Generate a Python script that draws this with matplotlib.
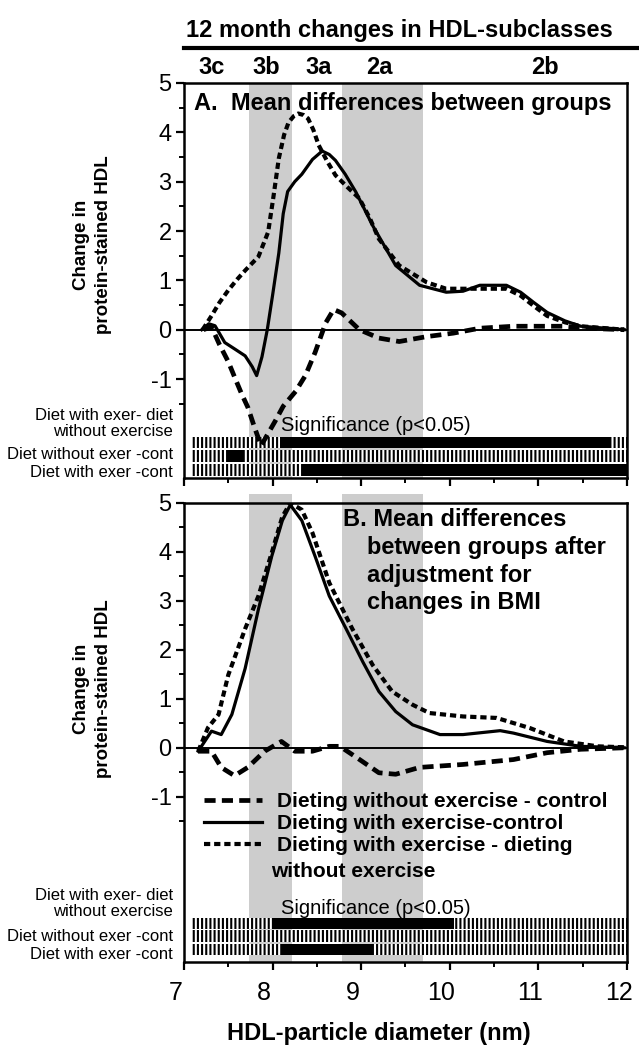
import matplotlib.pyplot as plt
import matplotlib.transforms as mtransforms
import numpy as np
from matplotlib.lines import Line2D

plt.rcParams['font.family'] = ['Liberation Sans', 'DejaVu Sans']
plt.rcParams['hatch.linewidth'] = 1.5
plt.rcParams['hatch.color'] = 'black'
plt.rcParams['lines.scale_dashes'] = False
plt.rcParams['axes.unicode_minus'] = False

# ---------------- data ----------------
subclasses = ['3c', '3b', '3a', '2a', '2b']
subclass_x = [7.31, 7.93, 8.52, 9.20, 11.08]
bands = [(7.73, 8.22), (8.78, 9.70)]

# panel A: mean differences between groups
a_noex_x = [7.22, 7.31, 7.40, 7.50, 7.58, 7.65, 7.72, 7.80, 7.87, 7.95, 8.03, 8.12,
            8.26, 8.37, 8.48, 8.60, 8.69, 8.78, 8.98, 9.20, 9.43, 9.74, 10.04, 10.34,
            10.72, 11.29, 11.67, 11.97]
a_noex_y = [0.0, 0.06, -0.30, -0.65, -1.0, -1.30, -1.57, -2.0, -2.35, -2.10, -1.85, -1.55,
            -1.25, -0.93, -0.46, 0.14, 0.41, 0.34, 0.0, -0.17, -0.24, -0.14, -0.07, 0.03,
            0.07, 0.07, 0.02, 0.0]

a_ex_x = [7.20, 7.28, 7.35, 7.46, 7.58, 7.69, 7.77, 7.82, 7.88, 7.94, 8.00, 8.07, 8.12,
          8.17, 8.25, 8.33, 8.45, 8.56, 8.64, 8.71, 8.82, 8.94, 9.13, 9.39, 9.66, 9.96,
          10.15, 10.34, 10.64, 10.80, 10.95, 11.10, 11.30, 11.48, 11.97]
a_ex_y = [0.0, 0.12, 0.08, -0.26, -0.40, -0.53, -0.75, -0.93, -0.55, 0.0, 0.70, 1.55, 2.35,
          2.80, 3.00, 3.15, 3.45, 3.62, 3.55, 3.43, 3.15, 2.79, 2.11, 1.30, 0.90, 0.76,
          0.78, 0.90, 0.90, 0.76, 0.55, 0.35, 0.18, 0.07, 0.0]

a_exnoex_x = [7.21, 7.31, 7.40, 7.50, 7.60, 7.69, 7.84, 7.95, 8.01, 8.07, 8.13, 8.18, 8.24,
              8.29, 8.35, 8.40, 8.46, 8.52, 8.62, 8.71, 8.85, 8.98, 9.10, 9.20, 9.43, 9.74,
              9.96, 10.34, 10.64, 10.80, 10.95, 11.10, 11.30, 11.48, 11.97]
a_exnoex_y = [0.0, 0.28, 0.55, 0.80, 1.02, 1.20, 1.48, 1.98, 2.70, 3.47, 3.95, 4.20, 4.33,
              4.38, 4.35, 4.28, 4.05, 3.74, 3.40, 3.13, 2.88, 2.66, 2.25, 1.84, 1.30, 0.96,
              0.83, 0.83, 0.83, 0.69, 0.48, 0.28, 0.15, 0.07, 0.0]

# panel B: after adjustment for changes in BMI
b_noex_x = [7.16, 7.31, 7.42, 7.57, 7.72, 7.91, 8.10, 8.25, 8.45, 8.64, 8.76, 8.95, 9.20,
            9.39, 9.66, 10.15, 10.72, 11.10, 11.48, 11.97]
b_noex_y = [-0.07, -0.07, -0.40, -0.57, -0.40, -0.07, 0.13, -0.07, -0.07, 0.03, 0.03, -0.20,
            -0.51, -0.54, -0.40, -0.34, -0.24, -0.10, -0.03, 0.0]

b_ex_x = [7.16, 7.31, 7.42, 7.54, 7.69, 7.84, 7.99, 8.11, 8.20, 8.33, 8.48, 8.64, 8.83,
          9.02, 9.20, 9.39, 9.58, 9.89, 10.15, 10.57, 10.72, 11.10, 11.48, 11.97]
b_ex_y = [-0.07, 0.34, 0.27, 0.68, 1.62, 2.83, 3.91, 4.64, 4.96, 4.64, 3.91, 3.10, 2.43,
          1.75, 1.15, 0.74, 0.47, 0.27, 0.27, 0.35, 0.30, 0.13, 0.03, 0.0]

b_exnoex_x = [7.16, 7.27, 7.39, 7.50, 7.69, 7.84, 7.99, 8.11, 8.20, 8.33, 8.45, 8.64, 8.90,
              9.13, 9.35, 9.58, 9.77, 10.15, 10.53, 10.91, 11.29, 11.67, 11.97]
b_exnoex_y = [-0.07, 0.41, 0.68, 1.49, 2.43, 3.10, 3.98, 4.72, 5.0, 4.86, 4.39, 3.37, 2.43,
              1.69, 1.15, 0.88, 0.71, 0.64, 0.61, 0.40, 0.13, 0.03, 0.01]

legend_labels = ['Dieting without exercise - control',
                 'Dieting with exercise-control',
                 'Dieting with exercise - dieting']

sig_labels = ['Diet with exer- diet\nwithout exercise',
              'Diet without exer -cont',
              'Diet with exer -cont']
# significant (p<0.05) ranges per row, nm
sig_a = [[(8.08, 11.82)], [(7.50, 7.68)], [(8.34, 12.0)]]
sig_b = [[(8.00, 10.05)], [], [(8.10, 9.12)]]

# ---------------- figure ----------------
fig = plt.figure(figsize=(6.39, 10.5), dpi=100)
axA = fig.add_axes([0.288, 0.545, 0.693, 0.376])
axB = fig.add_axes([0.288, 0.084, 0.693, 0.437])

styles = [dict(color='black', lw=3.4, dashes=(8, 4.5)),
          dict(color='black', lw=2.3, ls='-'),
          dict(color='black', lw=3.0, dashes=(4.5, 2.8))]

panels = [
    (axA, (-3.0, 5.0), [(a_noex_x, a_noex_y), (a_ex_x, a_ex_y), (a_exnoex_x, a_exnoex_y)],
     sig_a, [(-2.39, 0.22), (-2.69, 0.25), (-2.96, 0.23)], [-1.90, -2.53, -2.89], -1.95),
    (axB, (-4.37, 5.0), [(b_noex_x, b_noex_y), (b_ex_x, b_ex_y), (b_exnoex_x, b_exnoex_y)],
     sig_b, [(-3.69, 0.22), (-3.96, 0.23), (-4.24, 0.24)], [-3.18, -3.86, -4.22], -3.29),
]

for ax, ylim, curves, sig, rows, lab_y, sig_txt_y in panels:
    ax.set_xlim(7, 12)
    ax.set_ylim(*ylim)
    for x0, x1 in bands:
        ax.axvspan(x0, x1, ymin=0, ymax=1.0 if ax is axA else 1.02, color='#cdcdcd',
                   lw=0, zorder=0, clip_on=False)
    ax.axhline(0, color='black', lw=1.4, zorder=1)
    lines = []
    for (cx, cy), st in zip(curves, styles):
        ln, = ax.plot(cx, cy, zorder=3, **st)
        lines.append(ln)
    # significance rows
    for (y0, h), segs in zip(rows, sig):
        ax.broken_barh([(7.08, 4.92)], (y0, h), facecolors='white', edgecolor='black',
                       hatch='||||', linewidth=0, zorder=2)
        if segs:
            ax.broken_barh([(s0, s1 - s0) for s0, s1 in segs], (y0, h),
                           facecolors='black', linewidth=0, zorder=2.5)
    tr = ax.get_yaxis_transform()
    for lab, y in zip(sig_labels, lab_y):
        ax.text(-0.025, y, lab, transform=tr, ha='right', va='center', fontsize=12,
                linespacing=1.05, multialignment='right')
    ax.text(8.1, sig_txt_y, 'Significance (p<0.05)', fontsize=14.5, ha='left',
            va='center', zorder=4)

    ax.set_xticks(range(7, 13))
    ax.set_xticks(np.arange(7.5, 12, 1.0), minor=True)
    ax.set_yticks(range(-1, 6))
    ax.set_yticks(np.arange(-1.5, 5, 1.0), minor=True)
    ax.tick_params(which='major', direction='out', length=6, width=1.6, labelsize=17, pad=3)
    ax.tick_params(which='minor', direction='out', length=3.5, width=1.4)
    for sp in ax.spines.values():
        sp.set_linewidth(1.8)
    ax.patch.set_alpha(0)
    if ax is axA:
        ax.tick_params(axis='x', labelbottom=False)
        handles = lines

axB.tick_params(axis='x', labelsize=18, pad=8)
shift = mtransforms.ScaledTranslation(-6 / 72, 0, fig.dpi_scale_trans)
for lab in axB.get_xticklabels():
    lab.set_transform(lab.get_transform() + shift)
axB.set_xlabel('HDL-particle diameter (nm)', fontsize=17, fontweight='bold')
axB.xaxis.set_label_coords(0.44, -0.132)

# headings
fig.text(0.625, 0.971, '12 month changes in HDL-subclasses', fontsize=17,
         fontweight='bold', ha='center', va='center')
fig.add_artist(Line2D([0.288, 1.0], [0.954, 0.954], color='black', lw=3))
trA = axA.get_xaxis_transform()
for lab, x in zip(subclasses, subclass_x):
    axA.text(x, 1.038, lab, transform=trA, fontsize=17, fontweight='bold',
             ha='center', va='center')

axA.text(0.023, 0.949, 'A.  Mean differences between groups', transform=axA.transAxes,
         fontsize=17, fontweight='bold', ha='left', va='center', zorder=5)

b_title = [('B. Mean differences', 0.358, 0.963),
           ('between groups after', 0.413, 0.902),
           ('adjustment for', 0.413, 0.841),
           ('changes in BMI', 0.413, 0.782)]
for t, x, y in b_title:
    axB.text(x, y, t, transform=axB.transAxes, fontsize=17, fontweight='bold',
             ha='left', va='center', zorder=5)

for y in (0.767, 0.344):
    fig.text(0.145, y, 'Change in\nprotein-stained HDL', rotation=90, fontsize=13.5,
             fontweight='bold', ha='center', va='center', multialignment='center',
             linespacing=1.4)

leg = axB.legend(handles, legend_labels, loc='upper left', bbox_to_anchor=(0.045, 0.37),
                 frameon=False, handlelength=2.8, handletextpad=0.7, labelspacing=0.15,
                 borderaxespad=0, borderpad=0, prop=dict(size=15, weight='bold'))
axB.text(0.197, 0.196, 'without exercise', transform=axB.transAxes, fontsize=15,
         fontweight='bold', ha='left', va='center')

fig.savefig('out.png', dpi=100)
